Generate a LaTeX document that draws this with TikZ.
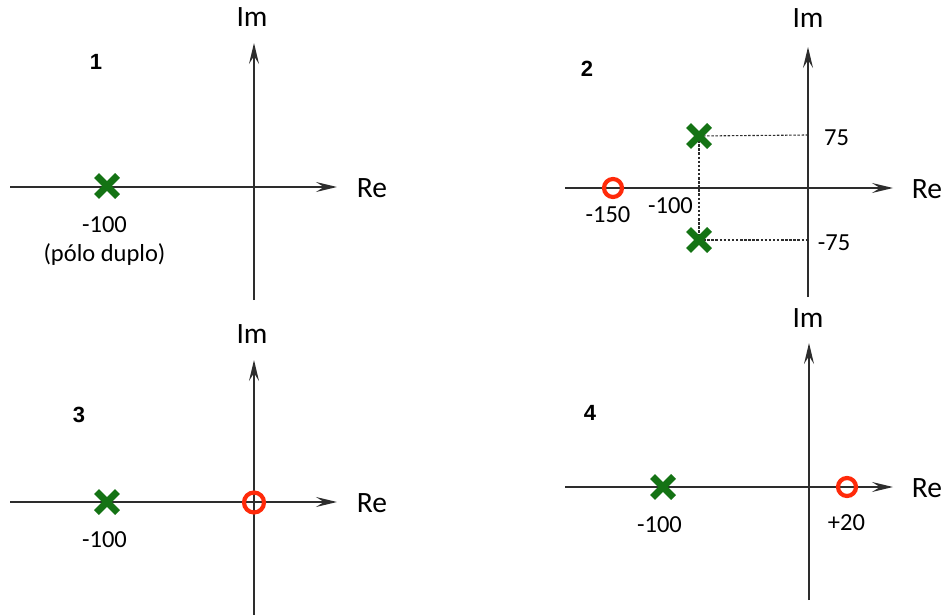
\documentclass[tikz,border=0pt]{standalone}
\usepackage{fontspec}
\setmainfont{Carlito}
\newfontfamily\numfont{Liberation Sans}
\usetikzlibrary{arrows.meta,shapes.misc}
\definecolor{polegreen}{RGB}{20,115,20}
\definecolor{zerored}{RGB}{255,42,10}
\definecolor{axisgray}{RGB}{45,45,45}
\begin{document}
\begin{tikzpicture}[x=1pt,y=-1pt,
  axis/.style={draw=axisgray, line width=1.5pt, -{Stealth[length=21pt,width=10pt,inset=8pt]}},
  guide/.style={draw=axisgray, line width=1.1pt, dash pattern=on 2.5pt off 1.6pt},
  pole/.style={cross out, draw=polegreen, line width=7pt, minimum size=14pt, inner sep=0pt},
  zero/.style={circle, draw=zerored, line width=4.2pt, minimum size=18pt, inner sep=0pt},
  lab/.style={anchor=base, inner sep=0pt, font=\fontsize{24.5}{29}\selectfont},
  axlab/.style={anchor=base, inner sep=0pt, font=\fontsize{29.5}{34}\selectfont},
  num/.style={anchor=base, inner sep=0pt, font=\numfont\bfseries\fontsize{22}{26}\selectfont}]
\useasboundingbox (0,0) rectangle (944,615);

% ---------- panel 1 ----------
\coordinate (re1w) at (10,187);
\coordinate (re1e) at (337,187);
\coordinate (im1s) at (254,300);
\coordinate (im1n) at (254,43);
\draw[axis] (re1w) -- (re1e);
\draw[axis] (im1s) -- (im1n);
\node[axlab] (im1) at (252,27) {Im};
\node[axlab] (re1) at (372,197) {Re};
\node[num] (n1) at (96,70) {1};
\node[pole] (p1) at (107,186) {};
\node[lab] (l1) at (104.5,232) {-100};
\node[lab] (l1b) at (104.5,261) {(pólo duplo)};

% ---------- panel 2 ----------
\coordinate (re2w) at (565,188);
\coordinate (re2e) at (893,188);
\coordinate (im2s) at (808,297);
\coordinate (im2n) at (808,47);
\coordinate (d2a) at (808,135);
\coordinate (d2b) at (808,240);
\draw[axis] (re2w) -- (re2e);
\draw[axis] (im2s) -- (im2n);
\node[axlab] (im2) at (808,28) {Im};
\node[axlab] (re2) at (927,198) {Re};
\node[num] (n2) at (587,77) {2};
\coordinate (c2a) at (699,136);
\coordinate (c2b) at (699,240);
\draw[guide] (c2a) -- (c2b);
\draw[guide] (c2a) -- (d2a);
\draw[guide] (c2b) -- (d2b);
\node[pole] (p2a) at (c2a) {};
\node[pole] (p2b) at (c2b) {};
\node[zero] (z2) at (613,188) {};
\node[lab] (l2a) at (608,222) {-150};
\node[lab] (l2b) at (670.5,213) {-100};
\node[lab] (l2c) at (836.5,145) {75};
\node[lab] (l2d) at (834,250) {-75};

% ---------- panel 3 ----------
\coordinate (re3w) at (10,502);
\coordinate (re3e) at (337,502);
\coordinate (im3s) at (254,615);
\coordinate (im3n) at (254,360);
\draw[axis] (re3w) -- (re3e);
\draw[axis] (im3s) -- (im3n);
\node[axlab] (im3) at (252,343) {Im};
\node[axlab] (re3) at (372,512) {Re};
\node[num] (n3) at (79,422) {3};
\node[pole] (p3) at (107,502) {};
\node[zero, minimum size=20pt] (z3) at (254,502.5) {};
\node[lab] (l3) at (104.5,547) {-100};

% ---------- panel 4 ----------
\coordinate (re4w) at (565,487);
\coordinate (re4e) at (893,487);
\coordinate (im4s) at (809,600);
\coordinate (im4n) at (809,343);
\draw[axis] (re4w) -- (re4e);
\draw[axis] (im4s) -- (im4n);
\node[axlab] (im4) at (808,327) {Im};
\node[axlab] (re4) at (927,497) {Re};
\node[num] (n4) at (590,420) {4};
\node[pole] (p4) at (663,487) {};
\node[zero] (z4) at (847,487) {};
\node[lab] (l4a) at (659.5,532) {-100};
\node[lab] (l4b) at (846.5,530) {+20};
\end{tikzpicture}
\end{document}
